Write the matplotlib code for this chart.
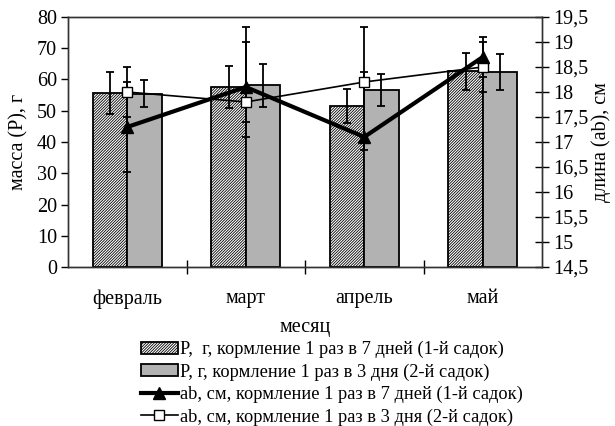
import matplotlib
matplotlib.use("Agg")
import matplotlib.pyplot as plt
from matplotlib.ticker import FuncFormatter, FixedLocator
import numpy as np

# data
months = ["февраль", "март", "апрель", "май"]

mass_7d = [55.7, 57.6, 51.5, 62.6]
mass_7d_err = [6.6, 6.7, 5.5, 5.9]
mass_3d = [55.5, 58.1, 56.6, 62.4]
mass_3d_err = [4.3, 7.0, 5.2, 5.7]

len_7d = [17.3, 18.1, 17.1, 18.7]
len_7d_err_lo = [0.9, 1.0, 0.25, 0.4]
len_7d_err_hi = [0.9, 1.2, 1.3, 0.4]
len_3d = [18.0, 17.8, 18.2, 18.5]
len_3d_err_lo = [0.5, 0.4, 1.1, 0.5]
len_3d_err_hi = [0.5, 1.2, 1.1, 0.5]

labels = [
    "P,  г, кормление 1 раз в 7 дней (1-й садок)",
    "P, г, кормление 1 раз в 3 дня (2-й садок)",
    "ab, см, кормление 1 раз в 7 дней (1-й садок)",
    "ab, см, кормление 1 раз в 3 дня (2-й садок)",
]

plt.rcParams["font.family"] = ["Liberation Serif", "DejaVu Serif"]
plt.rcParams["hatch.linewidth"] = 0.6
fs = 14.5

fig = plt.figure(figsize=(6.15, 4.26), dpi=100)
ax = fig.add_axes([68 / 615, 1 - 267 / 426, 474 / 615, 250 / 426])

x = np.arange(len(months))
w = 0.29
eb = dict(fmt="none", ecolor="black", elinewidth=1.3, capsize=3, capthick=1.3)

# bars on the mass axis
ax.bar(x - w, mass_7d, w, align="edge", color="white", edgecolor="black",
       hatch="/" * 12, linewidth=1.3, label=labels[0], zorder=2)
ax.bar(x, mass_3d, w, align="edge", color="#b2b2b2", edgecolor="black",
       linewidth=1.3, label=labels[1], zorder=2)
ax.errorbar(x - w / 2, mass_7d, yerr=mass_7d_err, zorder=3, **eb)
ax.errorbar(x + w / 2, mass_3d, yerr=mass_3d_err, zorder=3, **eb)

ax.set_xlim(-0.5, 3.5)
ax.set_ylim(0, 80)
ax.set_yticks(range(0, 81, 10))
ax.tick_params(axis="y", direction="out", length=5, width=1, labelsize=fs, pad=3)

# tick marks between categories, labels at centres
ax.xaxis.set_major_locator(FixedLocator([0.5, 1.5, 2.5]))
ax.xaxis.set_major_formatter(FuncFormatter(lambda v, p: ""))
ax.xaxis.set_minor_locator(FixedLocator(x))
ax.set_xticklabels(months, minor=True)
ax.tick_params(axis="x", which="major", direction="inout", length=10, width=1)
ax.tick_params(axis="x", which="minor", length=0, labelsize=fs, pad=16)

ax.set_ylabel("масса (P), г", fontsize=fs, labelpad=6)
ax.set_xlabel("месяц", fontsize=fs, labelpad=7)

for s in ax.spines.values():
    s.set_linewidth(1.0)
    s.set_color("#333333")

# lines on the length axis
ax2 = ax.twinx()
ax2.errorbar(x, len_7d, yerr=[len_7d_err_lo, len_7d_err_hi], zorder=3, **eb)
ax2.errorbar(x, len_3d, yerr=[len_3d_err_lo, len_3d_err_hi], zorder=3, **eb)
ax2.plot(x, len_3d, color="black", linewidth=1.2, marker="s", markersize=7,
         markerfacecolor="white", markeredgecolor="black", markeredgewidth=1.0,
         label=labels[3], zorder=4)
ax2.plot(x, len_7d, color="black", linewidth=3.0, marker="^", markersize=8.5,
         markerfacecolor="black", label=labels[2], zorder=5)

ax2.set_ylim(14.5, 19.5)
ax2.set_yticks(np.arange(14.5, 19.51, 0.5))
ax2.yaxis.set_major_formatter(FuncFormatter(lambda v, p: f"{v:g}".replace(".", ",")))
ax2.tick_params(axis="y", direction="inout", length=10, width=1, labelsize=fs, pad=3)
ax2.set_ylabel("длина (ab), см", fontsize=fs, labelpad=2)
for s in ax2.spines.values():
    s.set_linewidth(1.0)
    s.set_color("#333333")

h1, l1 = ax.get_legend_handles_labels()
h2, l2 = ax2.get_legend_handles_labels()
handles = h1 + [h2[1], h2[0]]
leg = fig.legend(handles, labels, loc="upper left", bbox_to_anchor=(141 / 615, 1 - 341 / 426),
                 frameon=False, fontsize=13.2, handlelength=2.0, handleheight=0.6,
                 handletextpad=0.1, labelspacing=0.28, borderpad=0, borderaxespad=0)

fig.savefig("out.png", dpi=100)
